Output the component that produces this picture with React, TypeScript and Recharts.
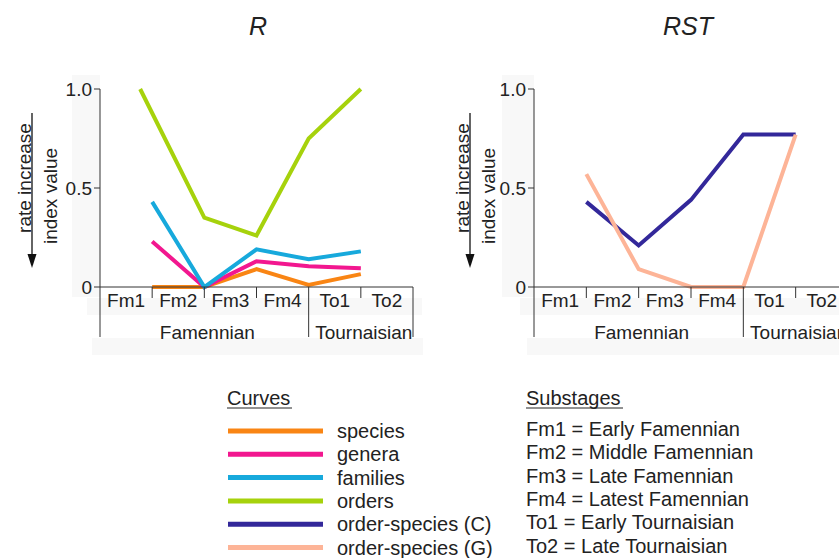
import React from "react";
import { LineChart, Line, XAxis, YAxis } from "recharts";

const stages = ["Fm1", "Fm2", "Fm3", "Fm4", "To1", "To2"];
const stageNames = [
  "Early Famennian",
  "Middle Famennian",
  "Late Famennian",
  "Latest Famennian",
  "Early Tournaisian",
  "Late Tournaisian",
];
const stageCenters = [0.5, 1.5, 2.5, 3.5, 4.5, 5.5];
const stageGroups = ["Famennian", "Tournaisian"];
const groupCenters = [2, 5];
const groupEnds = [4, 6];
const yTicks = [0, 0.5, 1];

// R panel
const rX = [0.77, 1, 2, 3, 4, 5];
const species = [null, 0, 0, 0.09, 0.01, 0.065];
const genera = [null, 0.23, 0, 0.13, 0.105, 0.095];
const families = [null, 0.43, 0, 0.19, 0.14, 0.18];
const orders = [1.0, null, 0.35, 0.26, 0.75, 1.0];

// RST panel
const rstX = [1, 2, 3, 4, 5];
const orderSpeciesC = [0.43, 0.21, 0.44, 0.77, 0.77];
const orderSpeciesG = [0.57, 0.09, 0, 0, 0.77];

const curveKeys = ["species", "genera", "families", "orders", "orderSpeciesC", "orderSpeciesG"];
const curveNames = ["species", "genera", "families", "orders", "order-species (C)", "order-species (G)"];
const curveColors = ["#f98514", "#f2178f", "#17a9dc", "#a6d20c", "#33289a", "#fdb497"];

const rData = rX.map((x, i) => ({
  x,
  species: species[i],
  genera: genera[i],
  families: families[i],
  orders: orders[i],
}));

const rstData = rstX.map((x, i) => ({
  x,
  orderSpeciesC: orderSpeciesC[i],
  orderSpeciesG: orderSpeciesG[i],
}));

const FONT = "'Liberation Sans', Arial, sans-serif";
const INK = "#222";
const AXIS = "#333";

function makeStageTick(bw: number) {
  return (props: any) => {
    const { x, y, index } = props;
    const right = stageCenters[index] + 0.5;
    const long = groupEnds.includes(right);
    return (
      <g>
        {index === 0 && <line x1={x - bw / 2} x2={x - bw / 2} y1={y} y2={y + 50} stroke={AXIS} strokeWidth={1} />}
        <line x1={x + bw / 2} x2={x + bw / 2} y1={y} y2={y + (long ? 50 : 11)} stroke={AXIS} strokeWidth={1} />
        <text x={x} y={y + 20} textAnchor="middle" fontSize={19} fill={INK} fontFamily={FONT}>
          {stages[index]}
        </text>
      </g>
    );
  };
}

function groupTick(props: any) {
  const { x, y, index } = props;
  return (
    <text x={x + 3} y={y + 32} textAnchor="middle" fontSize={19} fill={INK} fontFamily={FONT}>
      {stageGroups[index]}
    </text>
  );
}

function Panel({
  left,
  data,
  keys,
  marginLeft,
  plotWidth,
}: {
  left: number;
  data: any[];
  keys: string[];
  marginLeft: number;
  plotWidth: number;
}) {
  const width = 430;
  const bw = plotWidth / 6;
  return (
    <div style={{ position: "absolute", left, top: 0 }}>
      <LineChart
        width={width}
        height={360}
        data={data}
        margin={{ top: 89, right: width - marginLeft - 40 - plotWidth, bottom: 13, left: marginLeft }}
        style={{ fontFamily: FONT }}
      >
        <XAxis
          dataKey="x"
          type="number"
          domain={[0, 6]}
          ticks={stageCenters}
          interval={0}
          tick={makeStageTick(bw)}
          tickLine={false}
          tickSize={0}
          tickMargin={0}
          height={20}
          axisLine={{ stroke: AXIS }}
        />
        <XAxis
          xAxisId="groups"
          dataKey="x"
          type="number"
          domain={[0, 6]}
          ticks={groupCenters}
          interval={0}
          tick={groupTick}
          tickLine={false}
          tickSize={0}
          tickMargin={0}
          height={40}
          axisLine={false}
        />
        <YAxis
          type="number"
          domain={[0, 1]}
          ticks={yTicks}
          interval={0}
          width={40}
          tickSize={6}
          tickMargin={2}
          tickFormatter={(v: number) => (v === 0 ? "0" : v.toFixed(1))}
          tick={{ fill: INK, fontSize: 19, fontFamily: FONT }}
          axisLine={{ stroke: AXIS }}
          tickLine={{ stroke: AXIS }}
        />
        {keys.map((k) => {
          const i = curveKeys.indexOf(k);
          return (
            <Line
              key={k}
              type="linear"
              dataKey={k}
              stroke={curveColors[i]}
              strokeWidth={4}
              dot={false}
              activeDot={false}
              connectNulls
              isAnimationActive={false}
            />
          );
        })}
      </LineChart>
    </div>
  );
}

function YLabel({ dx }: { dx: number }) {
  return (
    <g fontFamily={FONT} fontSize={19} fill={INK}>
      <line x1={32 + dx} x2={32 + dx} y1={113} y2={256} stroke="#111" strokeWidth={1.3} />
      <polygon points={`${27.5 + dx},254 ${36.5 + dx},254 ${32 + dx},268`} fill="#111" />
      <text transform={`translate(${31 + dx},178) rotate(-90)`} textAnchor="middle">
        rate increase
      </text>
      <text transform={`translate(${57 + dx},196) rotate(-90)`} textAnchor="middle">
        index value
      </text>
    </g>
  );
}

export default function App() {
  const rowStep = 23.3;
  return (
    <div style={{ position: "absolute", left: 0, top: 0, width: 839, height: 558, overflow: "hidden", background: "#fff" }}>
      <svg width={839} height={558} style={{ position: "absolute", left: 0, top: 0 }}>
        <rect x={72} y={75} width={28} height={222} fill="#f8f8f8" />
        <rect x={87} y={298} width={335} height={17} fill="#f8f8f8" />
        <rect x={92} y={338} width={331} height={17} fill="#f8f8f8" />
        <rect x={502} y={75} width={32} height={222} fill="#f8f8f8" />
        <rect x={520} y={298} width={319} height={17} fill="#f8f8f8" />
        <rect x={527} y={338} width={312} height={17} fill="#f8f8f8" />
      </svg>
      <Panel left={0} data={rData} keys={["species", "genera", "families", "orders"]} marginLeft={60} plotWidth={313} />
      <Panel left={430} data={rstData} keys={["orderSpeciesC", "orderSpeciesG"]} marginLeft={64} plotWidth={314} />
      <svg width={839} height={558} style={{ position: "absolute", left: 0, top: 0, pointerEvents: "none" }}>
        <g fontFamily={FONT} fontSize={25} fontStyle="italic" fill={INK} textAnchor="middle">
          <text x={258} y={35}>R</text>
          <text x={688} y={35}>RST</text>
        </g>
        <YLabel dx={0} />
        <YLabel dx={438} />
        <g fontFamily={FONT} fontSize={20} fill={INK}>
          <text x={227} y={398} dominantBaseline="central">Curves</text>
          <line x1={227} x2={292} y1={408} y2={408} stroke={INK} strokeWidth={1} />
          {curveNames.map((name, i) => (
            <g key={name}>
              <line x1={228} x2={323} y1={431 + i * rowStep} y2={431 + i * rowStep} stroke={curveColors[i]} strokeWidth={5} />
              <text x={337} y={431 + i * rowStep} dominantBaseline="central">
                {name}
              </text>
            </g>
          ))}
          <text x={526} y={398} dominantBaseline="central">Substages</text>
          <line x1={526} x2={623} y1={408} y2={408} stroke={INK} strokeWidth={1} />
          {stages.map((s, i) => (
            <text key={s} x={526} y={429 + i * rowStep} dominantBaseline="central">
              {s} = {stageNames[i]}
            </text>
          ))}
        </g>
      </svg>
    </div>
  );
}
